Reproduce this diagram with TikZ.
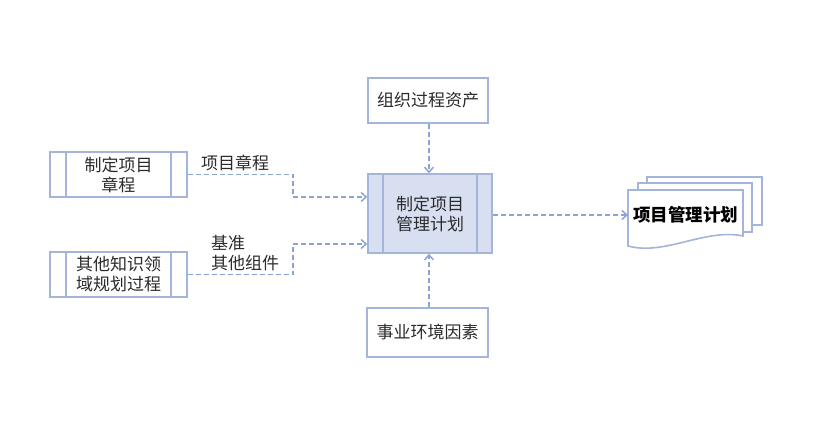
\documentclass[tikz,border=0pt]{standalone}
\usepackage{fontspec}
\newfontfamily\cjk{Noto Sans CJK SC}
\usetikzlibrary{arrows.meta}
\definecolor{bd}{HTML}{A4B4DA}
\definecolor{ar}{HTML}{8CA3D6}
\definecolor{fillc}{HTML}{D7DFF1}
\definecolor{tx}{HTML}{2B2B2B}
\begin{document}
\begin{tikzpicture}[x=1pt,y=-1pt,
  box/.style={draw=bd, line width=1.6pt, fill=white, inner sep=0pt, font=\cjk\fontsize{17}{20}\selectfont, text=tx, align=center},
  lbl/.style={inner sep=0pt, font=\cjk\fontsize{17}{20}\selectfont, text=tx, align=left},
  conn/.style={draw=ar, line width=1.5pt, dash pattern=on 5pt off 3pt, -{Straight Barb[length=5pt,width=9pt]}},
  inner/.style={draw=bd, line width=1.6pt},
  doc/.style={draw=bd, line width=1.6pt, fill=white}
]
\useasboundingbox (0,0) rectangle (825,434);

\node[box, minimum width=137pt, minimum height=45pt] (charter) at (118.5,174.5) {制定项目\\章程};
\node[box, minimum width=137pt, minimum height=45pt] (other) at (118.5,274.5) {其他知识领\\域规划过程};
\node[box, minimum width=120pt, minimum height=45pt] (opa) at (428,100.5) {组织过程资产};
\node[box, fill=fillc, minimum width=124pt, minimum height=79pt] (dev) at (430,213.5) {制定项目\\管理计划};
\node[box, minimum width=121pt, minimum height=49pt] (eef) at (427.5,332.5) {事业环境因素};

\foreach \n in {charter,other} {
  \draw[inner] ([xshift=17pt]\n.north west) -- ([xshift=17pt]\n.south west);
  \draw[inner] ([xshift=-17pt]\n.north east) -- ([xshift=-17pt]\n.south east);
}
\draw[inner] ([xshift=16pt]dev.north west) -- ([xshift=16pt]dev.south west);
\draw[inner] ([xshift=-16pt]dev.north east) -- ([xshift=-16pt]dev.south east);

% document stack
\draw[doc] (647,177) rectangle (762,225);
\draw[doc] (638,183) rectangle (752,232);
\draw[doc] (628,190) -- (743,190) -- (743,236)
  .. controls (705,228) and (665,256) .. (628,246) -- cycle;
\coordinate (docin) at (628,215);
\node[inner sep=0pt, font=\cjk\bfseries\fontsize{17.5}{20}\selectfont, text=black] (plan) at (685.5,215) {项目管理计划};

% labels
\node[lbl, anchor=west] (l1) at (201,163) {项目章程};
\node[lbl, anchor=west] (l2) at (211,253) {基准\\其他组件};

% connectors
\coordinate (j1) at (293,197);
\coordinate (j2) at (293,244);
\draw[conn] (charter.east) -| (j1) -- (j1 -| dev.west);
\draw[conn] (other.east) -| (j2) -- (j2 -| dev.west);
\draw[conn] ([xshift=1pt]opa.south) -- ([xshift=1pt]opa.south |- dev.north);
\draw[conn] (eef.north -| 429,0) -- (dev.south -| 429,0);
\draw[conn] (dev.east |- docin) -- (docin);
\end{tikzpicture}
\end{document}
